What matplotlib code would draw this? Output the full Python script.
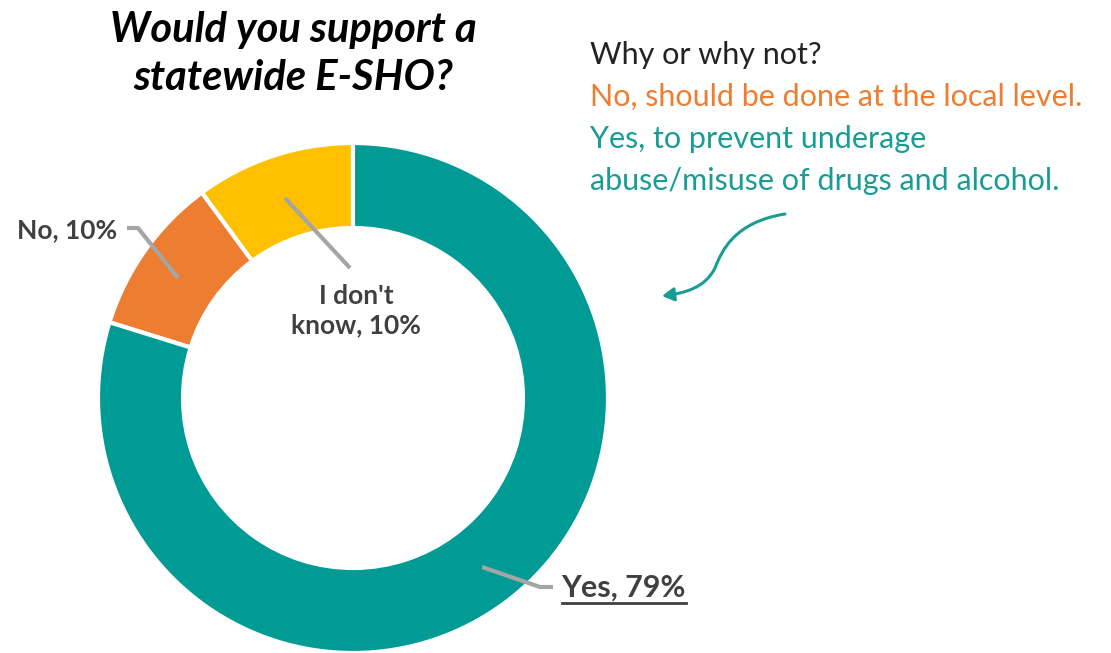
import matplotlib
matplotlib.use("Agg")
import matplotlib.pyplot as plt
from matplotlib.path import Path
from matplotlib.patches import FancyArrowPatch

# data
labels = ["I don't know", "No", "Yes"]
values = [10, 10, 79]
colors = ["#FFC000", "#ED7D31", "#009B95"]

title_lines = ["Would you support a", "statewide E-SHO?"]
notes = ["Why or why not?", "No, should be done at the local level.",
         "Yes, to prevent underage", "abuse/misuse of drugs and alcohol."]
note_colors = ["#222222", "#ED7D31", "#1A9C96", "#1A9C96"]

W, H = 1111, 653
def Y(py):
    return H - py

fig = plt.figure(figsize=(11.11, 6.53), dpi=100)
ax = fig.add_axes([0, 0, 1, 1])

ax.pie(values, colors=colors, startangle=90, counterclock=True,
       radius=255, center=(353, Y(398)), frame=True,
       wedgeprops=dict(width=85, edgecolor="white", linewidth=3))
ax.set_xlim(0, W)
ax.set_ylim(0, H)
ax.set_aspect("equal")
ax.axis("off")

# title
for i, t in enumerate(title_lines):
    ax.text(293, Y(30 + 48 * i), t, ha="center", va="center", fontsize=30,
            fontweight="bold", fontstyle="italic", family="Lato", color="black")

# data labels with leader lines
lead = "#A5A5A5"
lab_col = "#404040"
ax.plot([127, 138, 178], [Y(228), Y(228), Y(278)], color=lead, lw=3, solid_capstyle="butt")
ax.text(117, Y(230), "No, %d%%" % values[1], ha="right", va="center", fontsize=19,
        fontweight="bold", family="Lato", color=lab_col)

ax.plot([285, 350], [Y(198), Y(268)], color=lead, lw=3, solid_capstyle="butt")
ax.text(356, Y(311), "I don't\nknow, %d%%" % values[0], ha="center", va="center",
        fontsize=19, fontweight="bold", family="Lato", color=lab_col, linespacing=1.25)

ax.plot([482, 540, 553], [Y(567), Y(587), Y(587)], color=lead, lw=3, solid_capstyle="butt")
ax.text(561, Y(588), "Yes, %d%%" % values[2], ha="left", va="center", fontsize=22,
        fontweight="bold", family="Lato", color=lab_col)
ax.plot([562, 686], [Y(603), Y(603)], color=lab_col, lw=2)

# side notes
for i, (t, c) in enumerate(zip(notes, note_colors)):
    ax.text(590, Y(55 + 42 * i), t, ha="left", va="center", fontsize=22,
            family="Lato", color=c)

# curved arrow
verts = [(785, Y(214)), (735, Y(222)), (722, Y(250)), (715, Y(268)),
         (705, Y(288)), (685, Y(293)), (662, Y(296))]
codes = [Path.MOVETO, Path.CURVE4, Path.CURVE4, Path.CURVE4,
         Path.CURVE4, Path.CURVE4, Path.CURVE4]
arrow = FancyArrowPatch(path=Path(verts, codes), arrowstyle="-|>,head_length=7,head_width=4",
                        color="#1A9C96", lw=2.2)
ax.add_patch(arrow)

fig.savefig("out.png", dpi=100)
